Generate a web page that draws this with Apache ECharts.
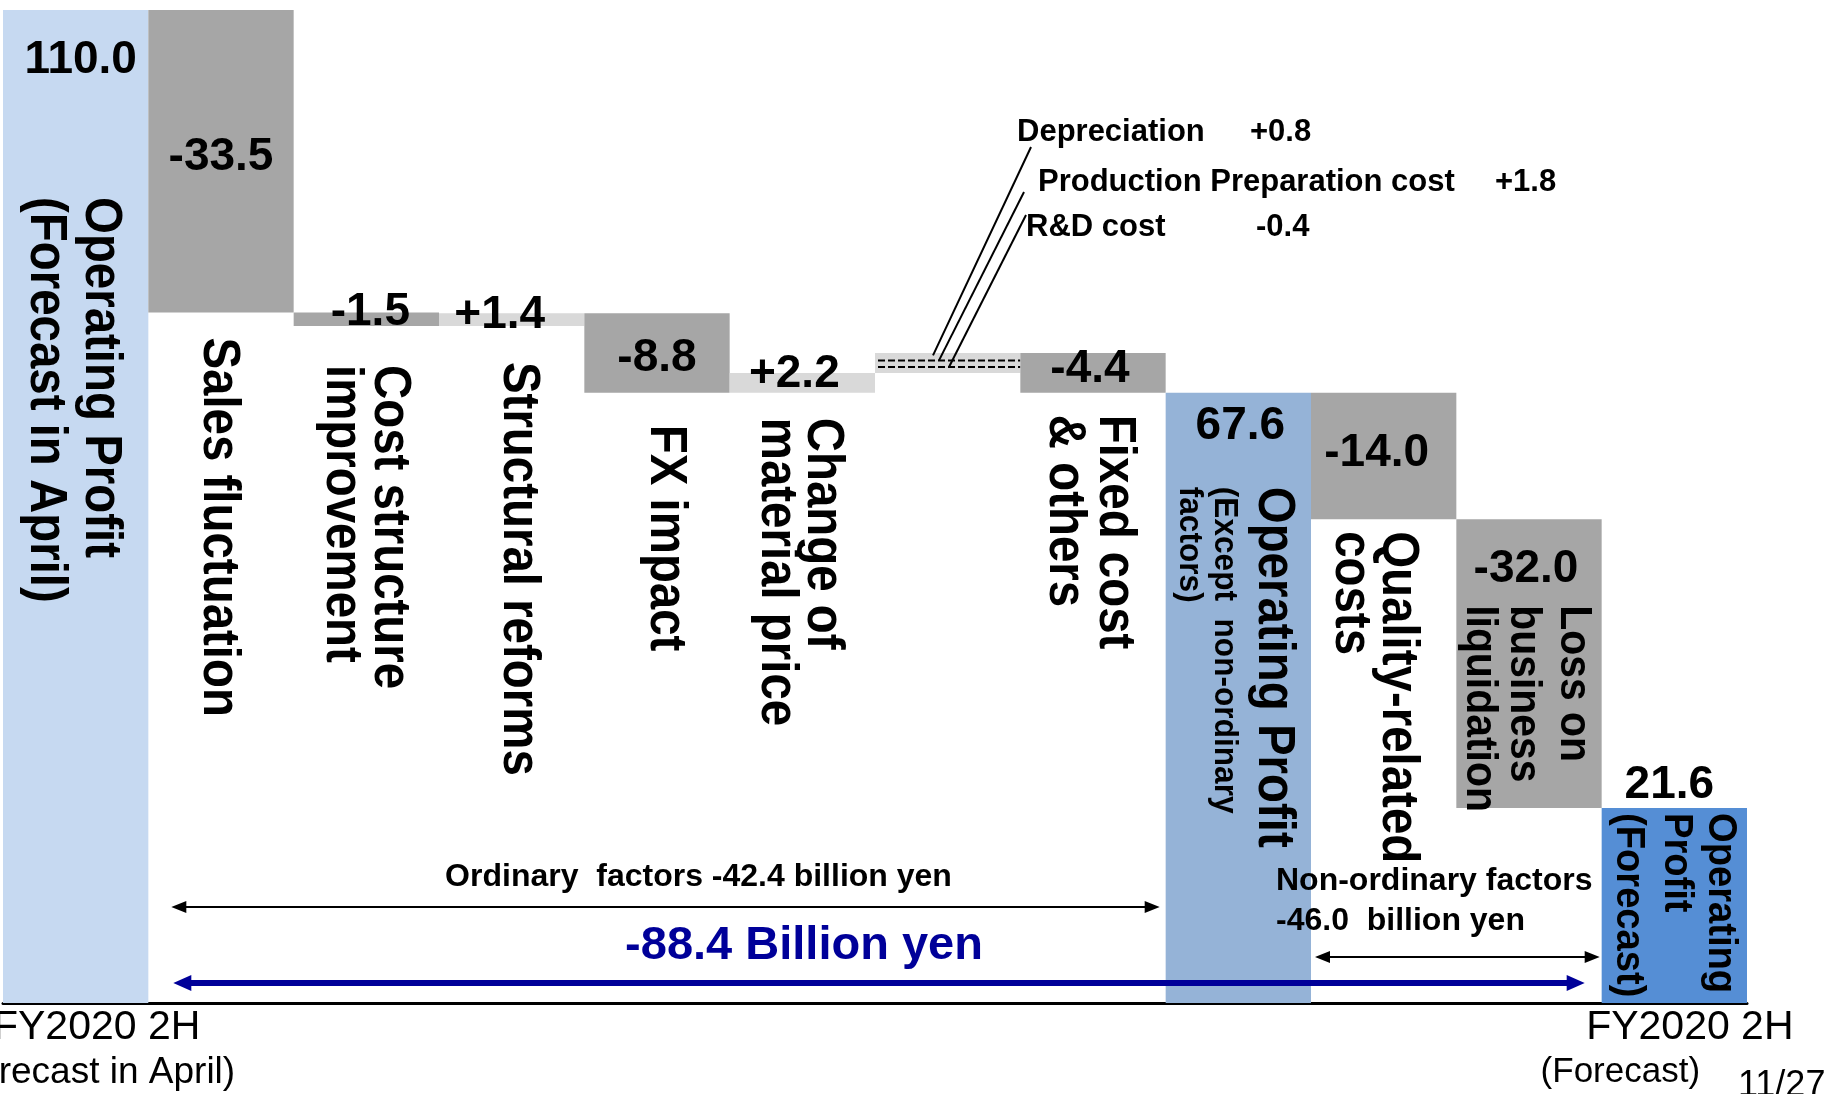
<!DOCTYPE html>
<html>
<head>
<meta charset="utf-8">
<title>Operating Profit bridge FY2020 2H</title>
<script src="https://cdn.jsdelivr.net/npm/echarts@6/dist/echarts.min.js"></script>
<style>
  html, body { margin: 0; padding: 0; background: #fff; }
  #chart { width: 1829px; height: 1094px; }
</style>
</head>
<body>
<div id="chart"></div>
<script>
// ---- data (billion yen) ----
const categories = [
  'Operating Profit\n(Forecast in April)',
  'Sales fluctuation',
  'Cost structure\nimprovement',
  'Structural reforms',
  'FX impact',
  'Change of\nmaterial price',
  'Depreciation / Production preparation / R&D',
  'Fixed cost\n& others',
  'Operating Profit\n(Except  non-ordinary\nfactors)',
  'Quality-related\ncosts',
  'Loss on\nbusiness\nliquidation',
  'Operating\nProfit\n(Forecast)'
];
// totals are absolute levels, every other entry is a change
const barValues = [110.0, -33.5, -1.5, 1.4, -8.8, 2.2, 2.2, -4.4, 67.6, -14.0, -32.0, 21.6];
const isTotal   = [true, false, false, false, false, false, false, false, true, false, false, true];

// breakdown of the dashed fixed-cost bar
const fixedCostItems  = ['Depreciation', 'Production Preparation cost', 'R&D cost'];
const fixedCostValues = [0.8, 1.8, -0.4];

// category-axis tick labels
const tickLabels = ['FY2020 2H\n(Forecast in April)', '', '', '', '', '', '', '', '', '', '', 'FY2020 2H\n(Forecast)'];

// groups of change bars summarised by the brackets
const ordinaryRange    = [1, 7];
const nonOrdinaryRange = [9, 10];
const totalRange       = [1, 10];

// ---- waterfall levels ----
const lows = [], highs = [];
(function () {
  let level = 0;
  barValues.forEach((v, i) => {
    if (isTotal[i]) { lows.push(0); highs.push(v); level = v; }
    else {
      const next = Math.round((level + v) * 10) / 10;
      lows.push(Math.min(level, next)); highs.push(Math.max(level, next)); level = next;
    }
  });
})();
// sum of the change bars (subtotals skipped) inside a range
const sumRange = ([a, b]) => {
  let s = 0;
  for (let i = a; i <= b; i++) if (!isTotal[i]) s += barValues[i];
  return Math.round(s * 10) / 10;
};
const fmtChange = v => (v > 0 ? '+' : '') + v.toFixed(1);
const fmtBar = i => isTotal[i] ? barValues[i].toFixed(1) : fmtChange(barValues[i]);

// ---- styles ----
const FONT = '"Liberation Sans", Arial, Helvetica, sans-serif';
const NAME_SQUEEZE = 0.93;
const totalColors = { 0: '#C6D9F1', 8: '#95B3D7', 11: '#558ED5' };
const barColor = i => isTotal[i] ? totalColors[i] : (barValues[i] < 0 ? '#A6A6A6' : '#D9D9D9');

// value label placement: offset from bar centre / chosen edge
const valueLabelPos = [
  { edge: 'top', dx: 5,   dy: 50 },
  { edge: 'top', dx: 0,   dy: 147 },
  { edge: 'top', dx: 4,   dy: 0 },
  { edge: 'top', dx: -12, dy: 2 },
  { edge: 'top', dx: 0,   dy: 45 },
  { edge: 'top', dx: -8,  dy: 1 },
  null,
  { edge: 'top', dx: -3,  dy: 16 },
  { edge: 'top', dx: 2,   dy: 34 },
  { edge: 'top', dx: -7,  dy: 61 },
  { edge: 'top', dx: -3,  dy: 50 },
  { edge: 'top', dx: -5,  dy: -23 }
];
// vertical category names: start offset from an edge, per-line size and x offset
const nameLabelPos = [
  { edge: 'top',    dy: 187, size: 51, dx: [24.5, -30.5] },
  { edge: 'bottom', dy: 25,  size: 51, dx: [-2.5] },
  { edge: 'bottom', dy: 39,  size: 51, dx: [22.6, -25.5] },
  { edge: 'bottom', dy: 36,  size: 51, dx: [6] },
  { edge: 'bottom', dy: 32,  size: 51, dx: [8] },
  { edge: 'bottom', dy: 25,  size: 51, dx: [20, -26] },
  null,
  { edge: 'bottom', dy: 22,  size: 51, dx: [21.5, -28.5] },
  { edge: 'top',    dy: 94,  size: [51, 34, 34], dx: [35, -14, -49] },
  { edge: 'bottom', dy: 12,  size: 51, dx: [13.5, -34] },
  { edge: 'top',    dy: 86,  size: 44, dx: [44, -6, -50] },
  { edge: 'top',    dy: 5,   size: 41, dx: [45.5, 1.5, -46.5] }
];
// callout for the dashed bar (relative to bar left edge / plot top)
const calloutLayout = {
  dashRows: [0.37, 0.7],
  textDx: [142, 163, 151],
  valueDx: [375, 620, 381],
  textDy: [122, 172, 217],
  lineFoot: [[58, 0.12], [64, 0.37], [74, 0.7]],
  lineHead: [[156, 137], [149, 182], [151, 205]]
};

function renderBar(params, api) {
  const i = params.dataIndex;
  const pTop = api.coord([i, api.value(2)]);
  const pBot = api.coord([i, api.value(1)]);
  const band = api.size([1, 0])[0];
  const cx = pTop[0], left = cx - band / 2, top = pTop[1], bottom = pBot[1];
  const h = bottom - top;
  const children = [{
    type: 'rect', shape: { x: left, y: top, width: band, height: h },
    style: { fill: barColor(i) }
  }];

  const vp = valueLabelPos[i];
  if (vp) {
    children.push({
      type: 'text', x: cx + vp.dx, y: (vp.edge === 'top' ? top : bottom) + vp.dy,
      style: { text: fmtBar(i), font: `bold 46px ${FONT}`, fill: '#000', align: 'center', verticalAlign: 'middle' }
    });
  }

  const np = nameLabelPos[i];
  if (np) {
    const y0 = (np.edge === 'top' ? top : bottom) + np.dy;
    categories[i].split('\n').forEach((line, k) => {
      const size = Array.isArray(np.size) ? np.size[k] : np.size;
      children.push({
        type: 'text', x: cx + np.dx[k], y: y0, rotation: -Math.PI / 2, scaleX: NAME_SQUEEZE, scaleY: 1,
        style: { text: line, font: `bold ${size}px ${FONT}`, fill: '#000', align: 'left', verticalAlign: 'middle' }
      });
    });
  }

  if (i === 6) {
    // dashed breakdown bar with callouts
    const plotTop = params.coordSys.y;
    calloutLayout.dashRows.forEach(r => {
      children.push({
        type: 'line', shape: { x1: left + 3, y1: top + h * r, x2: left + band, y2: top + h * r },
        style: { stroke: '#000', lineWidth: 2, lineDash: [7, 3] }
      });
    });
    fixedCostItems.forEach((name, k) => {
      const foot = calloutLayout.lineFoot[k], head = calloutLayout.lineHead[k];
      children.push({
        type: 'line',
        shape: { x1: left + foot[0], y1: top + h * foot[1], x2: left + head[0], y2: plotTop + head[1] },
        style: { stroke: '#000', lineWidth: 2 }
      });
      const ty = plotTop + calloutLayout.textDy[k];
      children.push({
        type: 'text', x: left + calloutLayout.textDx[k], y: ty,
        style: { text: name, font: `bold 31px ${FONT}`, fill: '#000', align: 'left', verticalAlign: 'middle' }
      });
      children.push({
        type: 'text', x: left + calloutLayout.valueDx[k], y: ty,
        style: { text: fmtChange(fixedCostValues[k]), font: `bold 31px ${FONT}`, fill: '#000', align: 'left', verticalAlign: 'middle' }
      });
    });
  }
  return { type: 'group', children };
}

// ---- brackets summarising the changes ----
const brackets = [
  { range: ordinaryRange, inset: [23, 6], dy: -96, color: '#000', lineWidth: 2, head: [15, 6],
    lines: () => [`Ordinary  factors ${fmtChange(sumRange(ordinaryRange))} billion yen`],
    text: { align: 'center', dx: 33, dy: [-126], font: `bold 32px ${FONT}` } },
  { range: nonOrdinaryRange, inset: [4, 2], dy: -46, color: '#000', lineWidth: 2, head: [15, 6],
    lines: () => ['Non-ordinary factors', `${fmtChange(sumRange(nonOrdinaryRange))}  billion yen`],
    text: { align: 'left', fromLeft: -35, dy: [-121.5, -81.5], font: `bold 32px ${FONT}` } },
  { range: totalRange, inset: [25, 17], dy: -20, color: '#000099', lineWidth: 6, head: [18, 8],
    lines: () => [`${fmtChange(sumRange(totalRange))} Billion yen`],
    text: { align: 'center', dx: -75, dy: [-57], font: `bold 47px ${FONT}` } }
];

function renderBracket(params, api) {
  const b = brackets[params.dataIndex];
  const band = api.size([1, 0])[0];
  const base = params.coordSys.y + params.coordSys.height;
  const leftEdge = api.coord([b.range[0], 0])[0] - band / 2;
  const rightEdge = api.coord([b.range[1], 0])[0] + band / 2;
  const x1 = leftEdge + b.inset[0], x2 = rightEdge - b.inset[1], y = base + b.dy;
  const [hl, hh] = b.head;
  const children = [
    { type: 'line', shape: { x1: x1 + hl - 2, y1: y, x2: x2 - hl + 2, y2: y }, style: { stroke: b.color, lineWidth: b.lineWidth } },
    { type: 'polygon', shape: { points: [[x1, y], [x1 + hl, y - hh], [x1 + hl, y + hh]] }, style: { fill: b.color } },
    { type: 'polygon', shape: { points: [[x2, y], [x2 - hl, y - hh], [x2 - hl, y + hh]] }, style: { fill: b.color } }
  ];
  const tx = b.text.align === 'center' ? (x1 + x2) / 2 + b.text.dx : leftEdge + b.text.fromLeft;
  b.lines().forEach((line, k) => {
    children.push({
      type: 'text', x: tx, y: base + b.text.dy[k],
      style: { text: line, font: b.text.font, fill: b.color, align: b.text.align, verticalAlign: 'middle' }
    });
  });
  return { type: 'group', children };
}

const chart = echarts.init(document.getElementById('chart'), null, { renderer: 'canvas' });
chart.setOption({
  backgroundColor: '#fff',
  animation: false,
  grid: { left: 3, right: 82, top: 10, bottom: 91, containLabel: false, outerBoundsMode: 'none' },
  xAxis: {
    type: 'category',
    data: categories,
    boundaryGap: true,
    axisTick: { show: false },
    axisLine: { show: true, lineStyle: { color: '#000', width: 3 } },
    axisLabel: {
      interval: 0,
      margin: 2,
      color: '#000',
      fontFamily: FONT,
      formatter: (v, i) => {
        const t = tickLabels[i];
        if (!t) return '';
        const key = i === 0 ? 'p' : 'q';
        return t.split('\n').map((s, k) => `{${key}${k}|${s}}`).join('\n');
      },
      rich: {
        p0: { fontSize: 41, lineHeight: 45, fontFamily: FONT, color: '#000', padding: [0, 0, 0, 42] },
        p1: { fontSize: 37, lineHeight: 45, fontFamily: FONT, color: '#000', padding: [0, 0, 0, 27] },
        q0: { fontSize: 41, lineHeight: 45, fontFamily: FONT, color: '#000', padding: [0, 0, 0, 31] },
        q1: { fontSize: 35, lineHeight: 45, fontFamily: FONT, color: '#000', padding: [0, 108, 0, 0] }
      }
    },
    splitLine: { show: false }
  },
  yAxis: { type: 'value', min: 0, max: 110, show: false, splitLine: { show: false } },
  series: [
    {
      name: 'bridge', type: 'custom', silent: true, clip: false,
      data: categories.map((c, i) => [i, lows[i], highs[i]]),
      encode: { x: 0, y: [1, 2] },
      renderItem: renderBar
    },
    {
      name: 'brackets', type: 'custom', silent: true, clip: false, z: 3,
      data: brackets.map((b, k) => [b.range[0], 0]),
      encode: { x: 0, y: 1 },
      renderItem: renderBracket
    }
  ],
  graphic: [{
    type: 'text', left: 1738, top: 1068,
    style: { text: '11/27', font: `36px ${FONT}`, fill: '#000' }
  }]
});
</script>
</body>
</html>
